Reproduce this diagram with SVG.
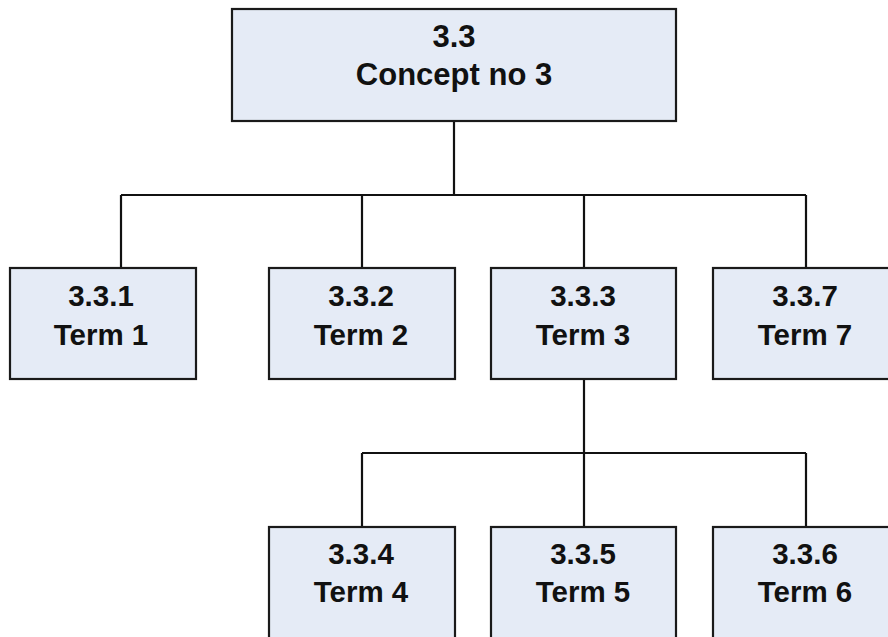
<svg xmlns="http://www.w3.org/2000/svg" width="888" height="637" viewBox="0 0 888 637">
<style>
.box{fill:#e5ebf6;stroke:#1a1a1a;stroke-width:2.2}
.t{font-family:"Liberation Sans",Arial,sans-serif;font-weight:bold;font-size:29.5px;fill:#111;text-anchor:middle}
.big{font-size:31px}
.c{fill:none;stroke:#111;stroke-width:2.2}
</style>
<rect width="888" height="637" fill="#fff"/>
<g id="connectors">
<path class="c" d="M454 121V195M121 195H806M121 195V268M362 195V268M584 195V268M806 195V268"/>
<path class="c" d="M584 380V453M362 453H806M362 453V527M584 453V527M806 453V527"/>
</g>
<g id="n33"><rect class="box" x="232" y="9" width="444" height="112"/><text class="t big" x="454" y="47">3.3</text><text class="t big" x="454" y="85">Concept no 3</text></g>
<g id="n331"><rect class="box" x="10" y="268" width="186" height="111"/><text class="t" x="101" y="306">3.3.1</text><text class="t" x="101" y="345">Term 1</text></g>
<g id="n332"><rect class="box" x="269" y="268" width="186" height="111"/><text class="t" x="361" y="306">3.3.2</text><text class="t" x="361" y="345">Term 2</text></g>
<g id="n333"><rect class="box" x="491" y="268" width="185" height="111"/><text class="t" x="583" y="306">3.3.3</text><text class="t" x="583" y="345">Term 3</text></g>
<g id="n337"><rect class="box" x="713" y="268" width="186" height="111"/><text class="t" x="805" y="306">3.3.7</text><text class="t" x="805" y="345">Term 7</text></g>
<g id="n334"><rect class="box" x="269" y="527" width="186" height="120"/><text class="t" x="361" y="564">3.3.4</text><text class="t" x="361" y="602">Term 4</text></g>
<g id="n335"><rect class="box" x="491" y="527" width="185" height="120"/><text class="t" x="583" y="564">3.3.5</text><text class="t" x="583" y="602">Term 5</text></g>
<g id="n336"><rect class="box" x="713" y="527" width="186" height="120"/><text class="t" x="805" y="564">3.3.6</text><text class="t" x="805" y="602">Term 6</text></g>
</svg>
